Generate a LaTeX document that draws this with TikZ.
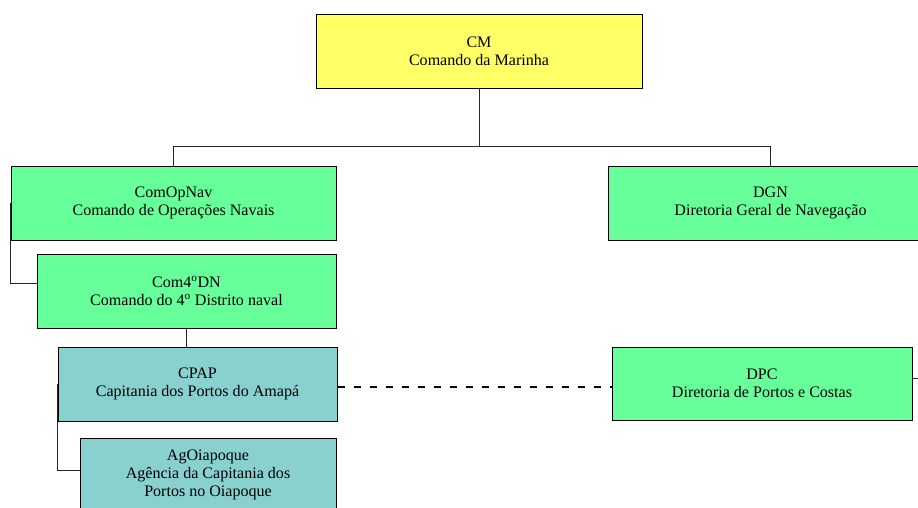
\documentclass[tikz,border=0pt]{standalone}
\usepackage{fontspec}
\setmainfont{Liberation Serif}
\definecolor{cmyellow}{RGB}{255,255,102}
\definecolor{orggreen}{RGB}{102,255,153}
\definecolor{capteal}{RGB}{136,209,207}
\begin{document}
\begin{tikzpicture}[
    orgbox/.style={draw=black, line width=0.85pt, minimum height=2.22cm, align=center, inner sep=0pt,
                   font=\fontsize{13.7}{15.1}\selectfont},
    link/.style={draw=black!85, line width=0.85pt},
    ]
    \useasboundingbox (0, 0) rectangle (27.54, -15.21);

    % 1px = 0.03cm, reference 918 x 507
    \node[orgbox, fill=cmyellow, minimum width=9.78cm] (CM) at (14.37, -1.53) {CM\\Comando da Marinha};

    \node[orgbox, fill=orggreen, minimum width=9.75cm] (ComOpNav) at (5.205, -6.09) {ComOpNav\\Comando de Operações Navais};
    \node[orgbox, fill=orggreen, minimum width=9.75cm] (DGN) at (23.115, -6.09) {DGN\\Diretoria Geral de Navegação};

    \node[orgbox, fill=orggreen, minimum width=8.97cm] (Com4DN) at (5.595, -8.73) {Com4\textsuperscript{o}DN\\Comando do 4\textsuperscript{o} Distrito naval};

    \node[orgbox, fill=capteal, minimum width=8.37cm] (CPAP) at (5.925, -11.52) {CPAP\\Capitania dos Portos do Amapá};
    \node[orgbox, fill=orggreen, minimum width=9.0cm, minimum height=2.19cm] (DPC) at (22.86, -11.505) {DPC\\Diretoria de Portos e Costas};

    \node[orgbox, fill=capteal, minimum width=7.68cm] (AgOiapoque) at (6.24, -14.25) {AgOiapoque\\Agência da Capitania dos\\Portos no Oiapoque};

    % bus under CM: y = -146 * 0.03
    \coordinate (bus) at (0, -4.38);
    \coordinate (DPCout) at (27.7, -11.34);

    \draw[link] (CM.south) -- (CM.south |- bus);
    \draw[link] (ComOpNav.north) |- (DGN.north |- bus) -- (DGN.north);
    \draw[link] (ComOpNav.west) |- ([yshift=0.24cm]Com4DN.west);
    \draw[link] (Com4DN.south) -- (Com4DN.south |- CPAP.north);
    \draw[link] (CPAP.west) |- ([yshift=0.15cm]AgOiapoque.west);
    \draw[line width=1.7pt, dash pattern=on 0.21cm off 0.27cm] ([yshift=-0.09cm]CPAP.east) -- ([yshift=-0.09cm]CPAP.east -| DPC.west);
    \draw[link] (DPC.east |- DPCout) -- (DPCout);
\end{tikzpicture}
\end{document}
